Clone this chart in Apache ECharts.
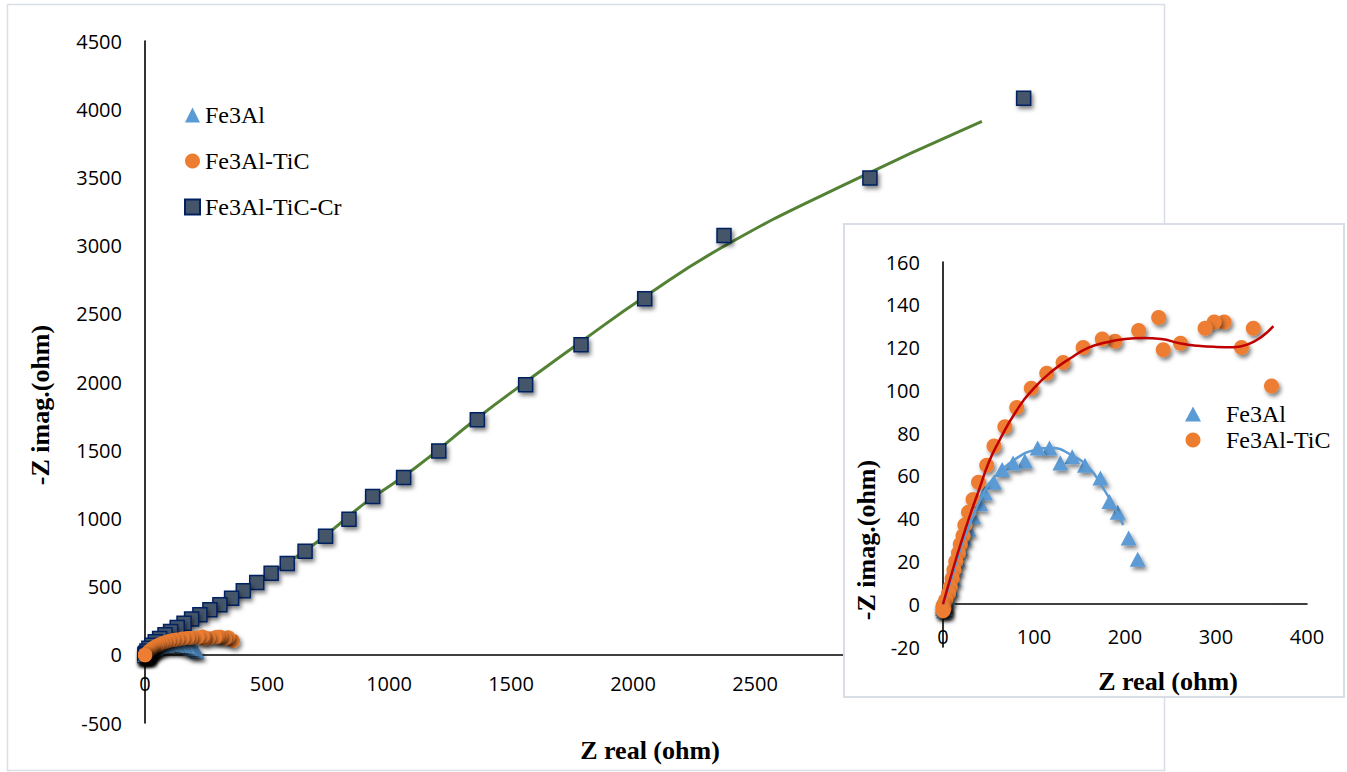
<!DOCTYPE html>
<html><head><meta charset="utf-8">
<script src="https://cdn.jsdelivr.net/npm/echarts@6/dist/echarts.min.js"></script>
<style>html,body{margin:0;padding:0;background:#fff}#c{width:1347px;height:772px}</style>
</head><body><div id="c"></div>
<script>
// Fe3Al (Z real, -Z imag) in ohm
const fe3al = [[214,21],[204,31],[192,43],[183,48],[173,59],[156,65],[142,69],[129,66],[117,73],[104,73],[90,67],[77,66],[65,63],[56,57],[46,52],[41,47],[33,41],[28,35],[23,31],[19,26],[16,21],[13,17],[11,12],[8,7],[5,3],[2,0],[1,-1],[0,-2],[1,-3],[0,-1],[2,-2]];
// Fe3Al-TiC
const fe3alTiC = [[361,102],[341,129],[328,120],[309,132],[298,132],[288,129],[261,122],[242,119],[237,134],[215,128],[189,123],[175,124],[154,120],[132,113],[114,108],[97,101],[81,92],[68,83],[56,74],[48,65],[39,57],[33,49],[28,43],[24,37],[22,32],[19,28],[17,24],[14,20],[12,16],[10,12],[8,8],[6,5],[3,2],[1,0],[0,-1],[0,-2],[1,-2],[0,-3]];
// Fe3Al-TiC-Cr
const fe3alTiCCr = [[3601,4081],[2971,3495],[2373,3074],[2048,2610],[1787,2273],[1560,1980],[1362,1723],[1204,1495],[1060,1300],[933,1160],[836,993],[740,870],[656,760],[583,670],[517,598],[458,530],[403,469],[355,415],[307,367],[266,330],[225,293],[191,262],[160,232],[132,200],[105,171],[82,147],[60,120],[42,95],[28,70],[16,48],[8,28],[3,12],[0,4],[-1,0],[-3,-3],[-2,-10],[0,-6],[1,-2]];
// fitted curves
const fitFe3Al = [[0,0],[10,13],[20,27],[30,38],[40,48],[50,56],[60,61],[80,68],[100,72],[120,73],[140,70],[160,64],[175,55],[190,44],[198,37]];
const fitTiC = [[0,0],[10,15],[20,29],[30,42],[40,54],[50,66],[60,75],[80,90],[100,101],[120,109],[140,115],[160,120],[180,122.5],[200,124],[220,124.5],[240,124],[260,122],[280,120.8],[300,120.3],[320,120.2],[335,121.5],[350,125],[363,130]];
const fitCr = [[50,105],[150,225],[300,360],[500,580],[700,820],[900,1110],[1100,1360],[1365,1740],[1560,2000],[1787,2295],[2048,2625],[2373,2995],[2850,3433],[3430,3910]];
// axis ranges [min, max, interval]
const mainX = [0, 4000, 500];
const mainY = [-500, 4500, 500];
const insetX = [0, 400, 100];
const insetY = [-20, 160, 20];
// main x tick labels that are covered by the inset in the original
const mainXCoveredFrom = 3000;
const legendMain = ['Fe3Al','Fe3Al-TiC','Fe3Al-TiC-Cr'];
const legendInset = ['Fe3Al','Fe3Al-TiC'];

const C_BLUE = '#5B9BD5', C_ORANGE = '#ED7D31', C_SQ = '#44546A', C_SQB = '#002060';
const shadow = {opacity: 1, shadowBlur: 4, shadowColor: 'rgba(0,0,0,0.5)', shadowOffsetX: 2, shadowOffsetY: 3};

// grid geometry
const mainGrid = {left: 145, right: 226, top: 41, bottom: 49};
const insetGrid = {left: 943, right: 40, top: 262, bottom: 125};
const H = 772;
function zeroOffset(g, yr) {
  const h = H - g.top - g.bottom;
  return -h * (0 - yr[0]) / (yr[1] - yr[0]);
}

function xaxis(gi, r, z, fs, margin, off, hideFrom) {
  return {
    type: 'value', gridIndex: gi, min: r[0], max: r[1], interval: r[2], z: z, offset: off,
    axisLine: {show: true, onZero: false, lineStyle: {color: '#000', width: 1.6}},
    axisTick: {show: false}, splitLine: {show: false},
    axisLabel: {fontSize: fs, margin: margin, fontFamily: 'Open Sans', color: '#000',
      formatter: v => (hideFrom !== undefined && v >= hideFrom) ? '' : String(v)}
  };
}
function yaxis(gi, r, z, fs, margin) {
  return {
    type: 'value', gridIndex: gi, min: r[0], max: r[1], interval: r[2], z: z,
    axisLine: {show: true, onZero: true, lineStyle: {color: '#000', width: 1.6}},
    axisTick: {show: false}, splitLine: {show: false},
    axisLabel: {fontSize: fs, margin: margin, fontFamily: 'Open Sans', color: '#000', formatter: v => String(v)}
  };
}

const chart = echarts.init(document.getElementById('c'), null, {renderer: 'svg'});
chart.setOption({
  animation: false,
  backgroundColor: '#fff',
  grid: [Object.assign({}, mainGrid), Object.assign({z: 12}, insetGrid)],
  xAxis: [xaxis(0, mainX, 0, 20, 19, zeroOffset(mainGrid, mainY), mainXCoveredFrom), xaxis(1, insetX, 12, 20, 22, zeroOffset(insetGrid, insetY))],
  yAxis: [yaxis(0, mainY, 0, 20, 23), yaxis(1, insetY, 12, 20, 23)],
  legend: [
    {orient: 'vertical', left: 184, top: 103, padding: 0, itemWidth: 15, itemHeight: 15, itemGap: 22,
     data: [{name: legendMain[0], icon: 'triangle'}, {name: legendMain[1], icon: 'circle'}, {name: legendMain[2], icon: 'rect'}],
     textStyle: {fontFamily: 'Liberation Serif', fontSize: 24, lineHeight: 24, color: '#000'}},
    {orient: 'vertical', left: 1185, top: 402, padding: 0, itemWidth: 16, itemHeight: 15, itemGap: 2, z: 20,
     data: [{name: legendInset[0], icon: 'triangle'}, {name: legendInset[1], icon: 'circle'}],
     textStyle: {fontFamily: 'Liberation Serif', fontSize: 24, lineHeight: 24, color: '#000', padding: [0, 0, 0, 20]}}
  ],
  graphic: [
    {type: 'rect', z: -1, shape: {x: 7.5, y: 4.5, width: 1157, height: 766}, style: {fill: 'none', stroke: '#d9dde5', lineWidth: 1.5}, silent: true},
    {type: 'rect', z: 10, shape: {x: 844, y: 224, width: 500, height: 473}, style: {fill: '#fff', stroke: '#d9dde5', lineWidth: 2}, silent: true},
    {type: 'text', z: 20, x: 650, y: 750, style: {text: 'Z real (ohm)', font: 'bold 26px "Liberation Serif"', fill: '#000', textAlign: 'center', textVerticalAlign: 'middle'}},
    {type: 'text', z: 20, x: 40, y: 405, rotation: Math.PI / 2, style: {text: '-Z imag.(ohm)', font: 'bold 26px "Liberation Serif"', fill: '#000', textAlign: 'center', textVerticalAlign: 'middle'}},
    {type: 'text', z: 20, x: 1168, y: 681, style: {text: 'Z real (ohm)', font: 'bold 26px "Liberation Serif"', fill: '#000', textAlign: 'center', textVerticalAlign: 'middle'}},
    {type: 'text', z: 20, x: 866, y: 540, rotation: Math.PI / 2, style: {text: '-Z imag.(ohm)', font: 'bold 26px "Liberation Serif"', fill: '#000', textAlign: 'center', textVerticalAlign: 'middle'}}
  ],
  series: [
    {name: 'fitCr', type: 'line', xAxisIndex: 0, yAxisIndex: 0, data: fitCr, smooth: true, showSymbol: false, z: 1,
     lineStyle: {color: '#548235', width: 3}},
    {name: legendMain[2], type: 'scatter', xAxisIndex: 0, yAxisIndex: 0, data: fe3alTiCCr, symbol: 'rect', symbolSize: 14, z: 2,
     itemStyle: Object.assign({color: C_SQ, borderColor: C_SQB, borderWidth: 1.5}, shadow)},
    {name: legendMain[0], type: 'scatter', xAxisIndex: 0, yAxisIndex: 0, data: fe3al, symbol: 'triangle', symbolSize: [15, 14], z: 3,
     itemStyle: Object.assign({color: C_BLUE}, shadow)},
    {name: legendMain[1], type: 'scatter', xAxisIndex: 0, yAxisIndex: 0, data: fe3alTiC, symbol: 'circle', symbolSize: 14, z: 4,
     itemStyle: Object.assign({color: C_ORANGE}, shadow)},
    {name: legendMain[0], type: 'scatter', xAxisIndex: 1, yAxisIndex: 1, data: fe3al, symbol: 'triangle', symbolSize: [16, 15], z: 13,
     itemStyle: Object.assign({color: C_BLUE}, shadow)},
    {name: legendMain[1], type: 'scatter', xAxisIndex: 1, yAxisIndex: 1, data: fe3alTiC, symbol: 'circle', symbolSize: 15, z: 14,
     itemStyle: Object.assign({color: C_ORANGE}, shadow)},
    {name: 'fitFe3Al', type: 'line', xAxisIndex: 1, yAxisIndex: 1, data: fitFe3Al, smooth: true, showSymbol: false, z: 15,
     lineStyle: {color: C_BLUE, width: 2.5}},
    {name: 'fitTiC', type: 'line', xAxisIndex: 1, yAxisIndex: 1, data: fitTiC, smooth: true, showSymbol: false, z: 15,
     lineStyle: {color: '#C00000', width: 2.5}}
  ]
});
</script></body></html>
